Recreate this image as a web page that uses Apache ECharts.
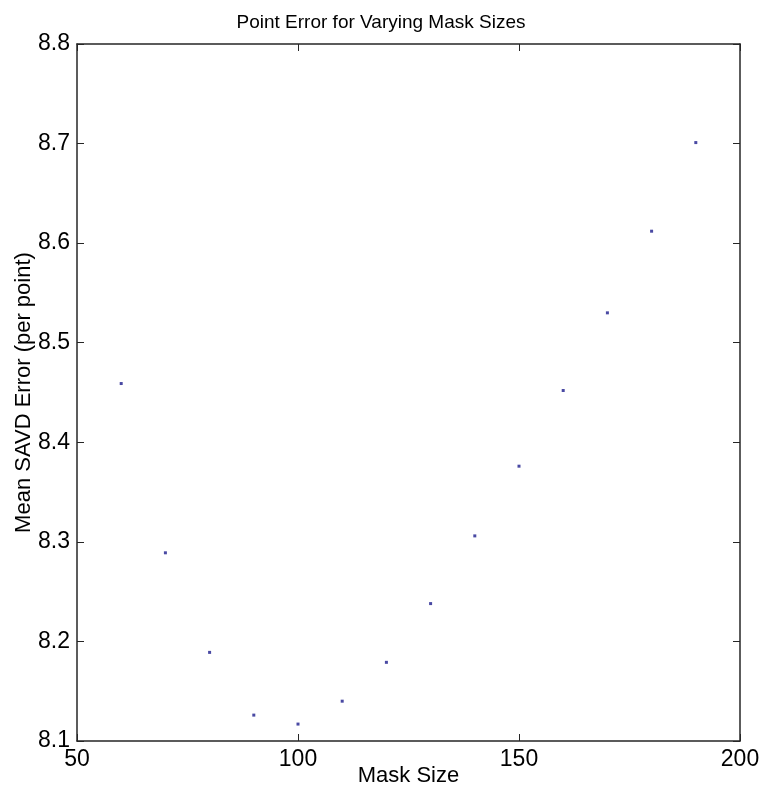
<!DOCTYPE html>
<html>
<head>
<meta charset="utf-8">
<script src="https://cdn.jsdelivr.net/npm/echarts@6/dist/echarts.min.js"></script>
<style>
  html, body { margin: 0; padding: 0; background: #fff; }
  #chart { width: 761px; height: 792px; }
</style>
</head>
<body>
<div id="chart"></div>
<script>
// mask sizes and mean error
const maskSizes = [60, 70, 80, 90, 100, 110, 120, 130, 140, 150, 160, 170, 180, 190];
const meanError = [8.459, 8.289, 8.189, 8.126, 8.117, 8.140, 8.179, 8.238, 8.306, 8.376, 8.452, 8.530, 8.612, 8.701];
const xTicks = [50, 100, 150, 200];
const yTicks = [8.1, 8.2, 8.3, 8.4, 8.5, 8.6, 8.7, 8.8];

const fontFamily = '"Liberation Sans", Arial, Helvetica, sans-serif';
const axisColor = '#262626';

const chart = echarts.init(document.getElementById('chart'));

const baseX = {
    type: 'value',
    min: xTicks[0],
    max: xTicks[xTicks.length - 1],
    interval: 50,
    splitLine: { show: false },
    axisLine: { show: true, onZero: false, lineStyle: { color: axisColor, width: 1.5 } },
    axisTick: { show: true, inside: true, length: 7, lineStyle: { color: axisColor, width: 1 } }
};
const baseY = {
    type: 'value',
    min: yTicks[0],
    max: yTicks[yTicks.length - 1],
    interval: 0.1,
    splitLine: { show: false },
    axisLine: { show: true, onZero: false, lineStyle: { color: axisColor, width: 1.5 } },
    axisTick: { show: true, inside: true, length: 7, lineStyle: { color: axisColor, width: 1 } }
};

const option = {
    backgroundColor: '#fff',
    animation: false,
    title: {
        text: 'Point Error for Varying Mask Sizes',
        left: 376,
        top: 8,
        textAlign: 'center',
        textStyle: { fontFamily, fontSize: 19, fontWeight: 'normal', color: '#000' }
    },
    grid: { left: 77, top: 44, right: 21, bottom: 51, outerBoundsMode: 'none' },
    xAxis: [
        Object.assign({}, baseX, {
            position: 'bottom',
            name: 'Mask Size',
            nameLocation: 'middle',
            nameGap: 24,
            nameMoveOverlap: false,
            nameTextStyle: { fontFamily, fontSize: 22, color: '#000' },
            axisLabel: { fontFamily, fontSize: 23, color: '#000', margin: 7 }
        }),
        Object.assign({}, baseX, { position: 'top', axisLabel: { show: false } })
    ],
    yAxis: [
        Object.assign({}, baseY, {
            position: 'left',
            name: 'Mean SAVD Error (per point)',
            nameLocation: 'middle',
            nameGap: 42,
            nameMoveOverlap: false,
            nameTextStyle: { fontFamily, fontSize: 22, color: '#000' },
            axisLabel: {
                fontFamily, fontSize: 23, color: '#000', margin: 7,
                formatter: v => v.toFixed(1)
            }
        }),
        Object.assign({}, baseY, { position: 'right', axisLabel: { show: false } })
    ],
    series: [{
        type: 'scatter',
        xAxisIndex: 0,
        yAxisIndex: 0,
        data: maskSizes.map((m, i) => [m, meanError[i]]),
        symbol: 'rect',
        symbolSize: 3,
        itemStyle: { color: '#1c1c8c' },
        silent: true
    }]
};

chart.setOption(option);
</script>
</body>
</html>
